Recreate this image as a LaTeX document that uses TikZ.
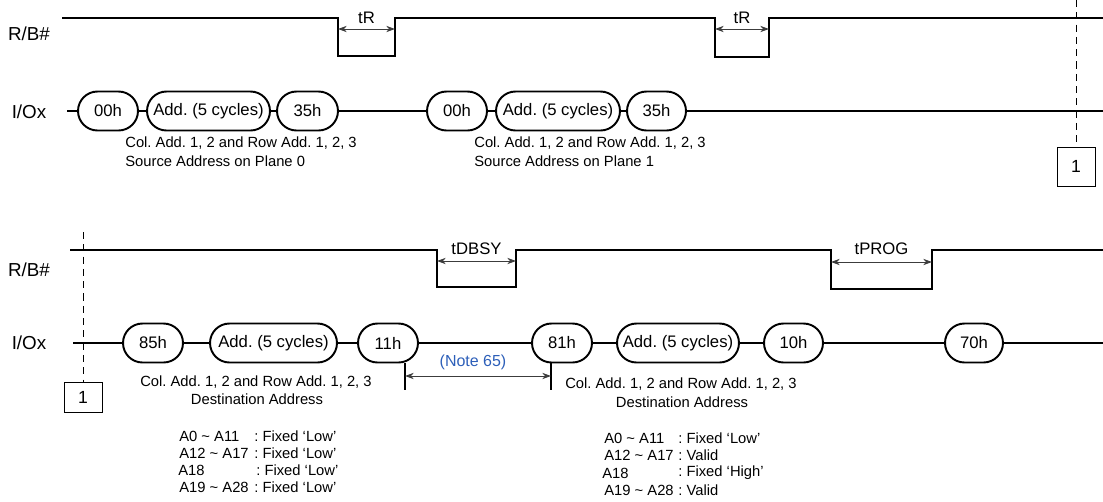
\documentclass[tikz,border=0pt]{standalone}
\usepackage{fontspec}
\setmainfont{Liberation Sans}
\frenchspacing
\usetikzlibrary{shapes.misc,arrows.meta}
\definecolor{notecolor}{RGB}{45,95,185}
\definecolor{arrowgray}{RGB}{60,60,60}
\begin{document}
\begin{tikzpicture}[
    x=0.02cm, y=-0.02cm,
    signal line/.style={draw, line width=0.9pt},
    pill/.style={draw, rounded rectangle, line width=1.1pt, minimum height=0.78cm,
                 inner sep=0pt, font=\fontsize{9.5}{11}\selectfont},
    timing arrow/.style={draw=arrowgray, line width=0.55pt,
                 {Stealth[length=5pt,width=3.6pt]}-{Stealth[length=5pt,width=3.6pt]}},
    timing text/.style={font=\fontsize{9.5}{11}\selectfont, inner sep=0pt},
    sig label/.style={font=\fontsize{10.7}{12}\selectfont},
    small text/.style={font=\fontsize{8.4}{10}\selectfont, inner sep=0pt},
    ref box/.style={draw, line width=0.5pt, inner sep=0pt, minimum width=0.76cm,
                 font=\fontsize{10}{12}\selectfont},
    dash line/.style={draw, line width=0.5pt, dash pattern=on 4pt off 3pt},
    ]
\useasboundingbox (0,0) rectangle (1103,501);
% top half
\node[sig label] (rbTop) at (29,34) {R/B\#};
\node[sig label] (ioTop) at (29,112) {I/Ox};
\draw[signal line] (62,18) -- (338,18) -- (338,56) -- (395,56) -- (395,18)
    -- (715,18) -- (715,57) -- (769,57) -- (769,18) -- (1103,18);
\draw[timing arrow] (338,29) -- (395,29);
\node[timing text] (tRa) at (366.5,18) {tR};
\draw[timing arrow] (715,29) -- (769,29);
\node[timing text] (tRb) at (742,18) {tR};
\coordinate (ioTopStart) at (67,111);
\coordinate (ioTopEnd) at (1103,111);
\node[pill, minimum width=1.2cm] (cmdA) at (108,111) {00h};
\node[pill, minimum width=2.46cm] (addA) at (208.5,111) {Add. (5 cycles)};
\node[pill, minimum width=1.22cm] (cmdB) at (307.5,111) {35h};
\node[pill, minimum width=1.2cm] (cmdC) at (457,111) {00h};
\node[pill, minimum width=2.48cm] (addB) at (558,111) {Add. (5 cycles)};
\node[pill, minimum width=1.18cm] (cmdD) at (656.5,111) {35h};
\draw[signal line] (ioTopStart) -- (cmdA) -- (addA) -- (cmdB) -- (cmdC) -- (addB)
    -- (cmdD) -- (ioTopEnd);
\node[small text, anchor=west] (srcA1) at (125,143) {Col. Add. 1, 2 and Row Add. 1, 2, 3};
\node[small text, anchor=west] (srcA2) at (125,161) {Source Address on Plane 0};
\node[small text, anchor=west] (srcB1) at (474,143) {Col. Add. 1, 2 and Row Add. 1, 2, 3};
\node[small text, anchor=west] (srcB2) at (474,161) {Source Address on Plane 1};
\node[ref box, minimum height=0.78cm] (refTop) at (1076,166.5) {1};
\coordinate (dashTop) at (1076,0);
\draw[dash line] (dashTop) -- (refTop);
% bottom half
\node[sig label] (rbBot) at (29,270) {R/B\#};
\node[sig label] (ioBot) at (29,343) {I/Ox};
\draw[signal line] (70,250) -- (437,250) -- (437,287) -- (516,287) -- (516,250)
    -- (831,250) -- (831,289) -- (932,289) -- (932,250) -- (1103,250);
\draw[timing arrow] (437,261) -- (516,261);
\node[timing text] (tDbsy) at (476.5,249) {tDBSY};
\draw[timing arrow] (831,262) -- (932,262);
\node[timing text] (tProg) at (881.5,249) {tPROG};
\coordinate (ioBotStart) at (73,343);
\coordinate (ioBotEnd) at (1103,343);
\node[pill, minimum width=1.2cm] (cmdE) at (153,343) {85h};
\node[pill, minimum width=2.54cm] (addC) at (273.5,343) {Add. (5 cycles)};
\node[pill, minimum width=1.2cm] (cmdF) at (388,343) {11h};
\node[pill, minimum width=1.2cm] (cmdG) at (562,343) {81h};
\node[pill, minimum width=2.44cm] (addD) at (678,343) {Add. (5 cycles)};
\node[pill, minimum width=1.18cm] (cmdH) at (793.5,343) {10h};
\node[pill, minimum width=1.16cm] (cmdI) at (974,343) {70h};
\draw[signal line] (ioBotStart) -- (cmdE) -- (addC) -- (cmdF) -- (cmdG) -- (addD)
    -- (cmdH) -- (cmdI) -- (ioBotEnd);
\node[ref box, minimum height=0.6cm] (refBot) at (83,397) {1};
\coordinate (dashBot) at (83,232);
\draw[dash line] (dashBot) -- (refBot);
% note 65 span
\coordinate (noteL) at (405,376);
\coordinate (noteR) at (551,376);
\draw[line width=0.9pt] (405,363) -- (405,390);
\draw[line width=0.9pt] (551,363) -- (551,390);
\draw[timing arrow] (noteL) -- (noteR);
\node[timing text, text=notecolor, font=\fontsize{9.1}{11}\selectfont] (note) at (473,362) {(Note 65)};
\node[small text] (dstA1) at (256,382) {Col. Add. 1, 2 and Row Add. 1, 2, 3};
\node[small text] (dstA2) at (257,399) {Destination Address};
\node[small text] (dstB1) at (681,384) {Col. Add. 1, 2 and Row Add. 1, 2, 3};
\node[small text] (dstB2) at (682,402) {Destination Address};
% address tables
\node[small text, anchor=west] (tabA1) at (179,436) {A0 \textasciitilde\ A11};
\node[small text, anchor=west] (tabA2) at (179,453) {A12 \textasciitilde\ A17};
\node[small text, anchor=west] (tabA3) at (178,470) {A18};
\node[small text, anchor=west] (tabA4) at (179,487) {A19 \textasciitilde\ A28};
\node[small text, anchor=west] (valA1) at (254,436) {: Fixed ‘Low’};
\node[small text, anchor=west] (valA2) at (254,453) {: Fixed ‘Low’};
\node[small text, anchor=west] (valA3) at (256,470) {: Fixed ‘Low’};
\node[small text, anchor=west] (valA4) at (254,487) {: Fixed ‘Low’};
\node[small text, anchor=west] (tabB1) at (604,438) {A0 \textasciitilde\ A11};
\node[small text, anchor=west] (tabB2) at (604,455) {A12 \textasciitilde\ A17};
\node[small text, anchor=west] (tabB3) at (602,473) {A18};
\node[small text, anchor=west] (tabB4) at (604,490) {A19 \textasciitilde\ A28};
\node[small text, anchor=west] (valB1) at (678,438) {: Fixed ‘Low’};
\node[small text, anchor=west] (valB2) at (678,455) {: Valid};
\node[small text, anchor=west] (valB3) at (678,473) {: Fixed ‘High’};
\node[small text, anchor=west] (valB4) at (678,490) {: Valid};
\end{tikzpicture}
\end{document}
